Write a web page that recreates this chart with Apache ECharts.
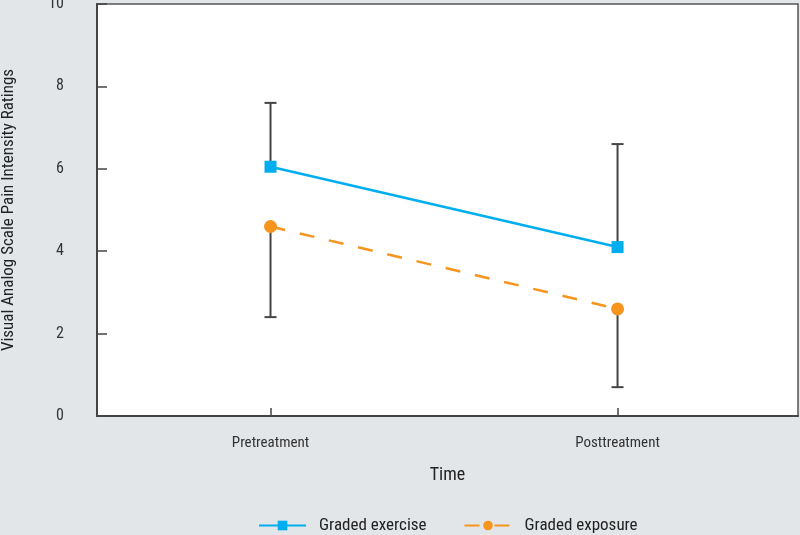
<!DOCTYPE html>
<html>
<head>
<meta charset="utf-8">
<script src="https://cdn.jsdelivr.net/npm/echarts@6/dist/echarts.min.js"></script>
<style>
html,body{margin:0;padding:0;background:#e3e6e9;}
#c{width:800px;height:535px;}
</style>
</head>
<body>
<div id="c"></div>
<script>
var categories = ['Pretreatment', 'Posttreatment'];
var exerciseMean = [6.05, 4.1];
var exposureMean = [4.6, 2.6];
var exerciseUpper = [7.6, 6.6];
var exposureLower = [2.4, 0.7];
var yTicks = [0, 2, 4, 6, 8, 10];

var FONT = '"Liberation Sans Narrow", "Roboto Condensed", "Roboto", sans-serif';
var xs = categories.map(function (c, i) { return i + 1; });

function errData(means, ends) {
  return means.map(function (m, i) { return [xs[i], m, ends[i]]; });
}

function renderErr(params, api) {
  var x = api.value(0);
  var a = api.coord([x, api.value(1)]);
  var b = api.coord([x, api.value(2)]);
  var hw = 6;
  var st = { stroke: '#444', lineWidth: 2 };
  return {
    type: 'group',
    children: [
      { type: 'line', shape: { x1: a[0], y1: a[1], x2: b[0], y2: b[1] }, style: st },
      { type: 'line', shape: { x1: b[0] - hw, y1: b[1], x2: b[0] + hw, y2: b[1] }, style: st }
    ]
  };
}

var chart = echarts.init(document.getElementById('c'));
chart.setOption({
  backgroundColor: '#e3e6e9',
  textStyle: { fontFamily: FONT },
  grid: {
    left: 97, right: 2, top: 4, bottom: 119,
    containLabel: false, outerBoundsMode: 'none',
    show: true, backgroundColor: '#ffffff', borderColor: '#555', borderWidth: 1.5
  },
  legend: {
    left: 258, top: 517, padding: 0,
    itemWidth: 47, itemHeight: 12, itemGap: 37,
    textStyle: { fontFamily: FONT, fontSize: 17, color: '#222', padding: [0, 0, 0, 8] },
    data: ['Graded exercise', 'Graded exposure']
  },
  xAxis: {
    type: 'value', min: 0.5, max: 2.52,
    name: 'Time', nameLocation: 'middle', nameGap: 50, nameMoveOverlap: false,
    nameTextStyle: { fontFamily: FONT, fontSize: 18, color: '#222' },
    splitLine: { show: false },
    axisLine: { show: true, onZero: false, lineStyle: { color: '#444', width: 2 } },
    axisTick: { show: true, inside: true, length: 8, customValues: xs, lineStyle: { color: '#444', width: 1.5 } },
    axisLabel: {
      customValues: xs, margin: 20, fontFamily: FONT, fontSize: 15, color: '#333',
      formatter: function (v) { return categories[Math.round(v) - 1] || ''; }
    }
  },
  yAxis: {
    type: 'value', min: 0, max: 10, interval: 2,
    name: 'Visual Analog Scale Pain Intensity Ratings', nameLocation: 'middle', nameGap: 80, nameMoveOverlap: false,
    nameTextStyle: { fontFamily: FONT, fontSize: 17, color: '#222' },
    splitLine: { show: false },
    axisLine: { show: true, onZero: false, lineStyle: { color: '#444', width: 2 } },
    axisTick: { show: true, inside: true, length: 10, lineStyle: { color: '#444', width: 1.5 } },
    axisLabel: {
      margin: 33, fontFamily: FONT, fontSize: 16, color: '#333',
      formatter: function (v) { return yTicks.indexOf(v) >= 0 ? String(v) : ''; }
    }
  },
  series: [
    {
      type: 'custom', name: 'errExercise', silent: true, z: 1,
      renderItem: renderErr, data: errData(exerciseMean, exerciseUpper), encode: { x: 0, y: [1, 2] }
    },
    {
      type: 'custom', name: 'errExposure', silent: true, z: 1,
      renderItem: renderErr, data: errData(exposureMean, exposureLower), encode: { x: 0, y: [1, 2] }
    },
    {
      type: 'line', name: 'Graded exercise', z: 3,
      data: exerciseMean.map(function (v, i) { return [xs[i], v]; }),
      symbol: 'rect', symbolSize: 12,
      itemStyle: { color: '#00aeef' },
      lineStyle: { color: '#00aeef', width: 2.5 }
    },
    {
      type: 'line', name: 'Graded exposure', z: 3,
      data: exposureMean.map(function (v, i) { return [xs[i], v]; }),
      symbol: 'circle', symbolSize: 13,
      itemStyle: { color: '#f7941d' },
      lineStyle: { color: '#f7941d', width: 2.5, type: [15, 15] }
    }
  ]
});
</script>
</body>
</html>
